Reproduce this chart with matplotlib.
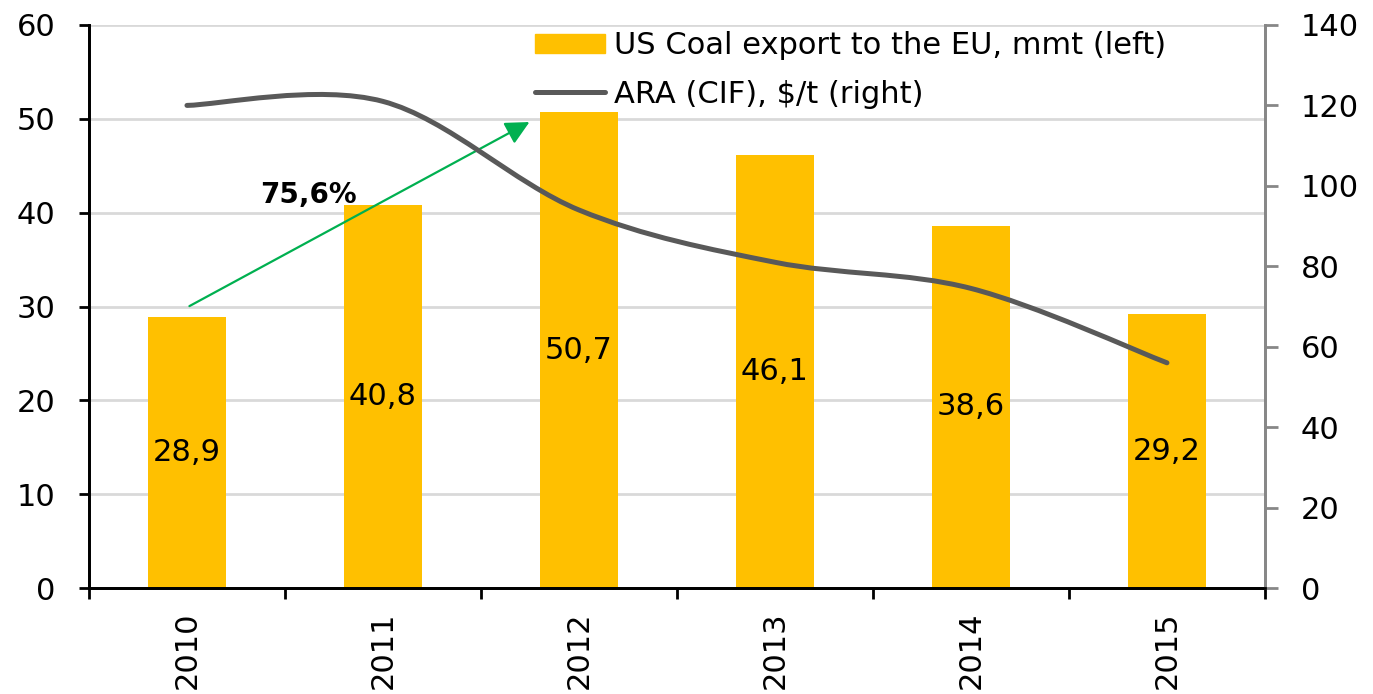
import matplotlib.pyplot as plt
from matplotlib.path import Path
from matplotlib.patches import PathPatch, Patch
from matplotlib.lines import Line2D

years = ["2010", "2011", "2012", "2013", "2014", "2015"]
export_mmt = [28.9, 40.8, 50.7, 46.1, 38.6, 29.2]
ara_price = [120.0, 121.0, 94.0, 81.0, 74.5, 56.0]
growth_label = "75,6%"

BAR = "#FFC000"
LINE = "#595959"
GRID = "#D9D9D9"
GREEN = "#00B050"


def smooth_path(xs, ys):
    # excel-like smoothed line: catmull-rom segments as cubic beziers
    verts = [(xs[0], ys[0])]
    codes = [Path.MOVETO]
    n = len(xs)
    for i in range(n - 1):
        x0, y0 = (xs[i - 1], ys[i - 1]) if i > 0 else (xs[i], ys[i])
        x1, y1 = xs[i], ys[i]
        x2, y2 = xs[i + 1], ys[i + 1]
        x3, y3 = (xs[i + 2], ys[i + 2]) if i + 2 < n else (x2, y2)
        c1 = (x1 + (x2 - x0) / 6, y1 + (y2 - y0) / 6)
        c2 = (x2 - (x3 - x1) / 6, y2 - (y3 - y1) / 6)
        verts += [c1, c2, (x2, y2)]
        codes += [Path.CURVE4] * 3
    return Path(verts, codes)


plt.rcParams["font.family"] = "DejaVu Sans"
plt.rcParams["font.size"] = 22

fig = plt.figure(figsize=(13.73, 6.94), dpi=100)
ax = fig.add_axes([0.0648, 0.1527, 0.8565, 0.8113])
ax2 = ax.twinx()

x = list(range(len(years)))
bars = ax.bar(x, export_mmt, width=0.4, color=BAR, zorder=2)
ax.bar_label(bars, labels=[f"{v:.1f}".replace(".", ",") for v in export_mmt],
             label_type="center", fontsize=22)

ax.set_xlim(-0.5, len(years) - 0.5)
ax.set_ylim(0, 60)
ax.set_yticks(range(0, 61, 10))
ax.set_axisbelow(True)
ax.grid(axis="y", color=GRID, linewidth=2)

ax.set_xticks(x)
ax.set_xticklabels(years, rotation=90)
ax.set_xticks([i - 0.5 for i in range(len(years) + 1)], minor=True)
ax.tick_params(axis="x", which="major", length=0, pad=17)
ax.tick_params(axis="x", which="minor", length=8, width=2, color="black")
ax.tick_params(axis="y", length=7, width=2, pad=17)

ax2.set_ylim(0, 140)
ax2.set_yticks(range(0, 141, 20))
ax2.tick_params(axis="y", length=9, width=2, color="#878787", pad=17)
ax2.add_patch(PathPatch(smooth_path(x, ara_price), facecolor="none",
                        edgecolor=LINE, linewidth=3.6, capstyle="round", zorder=3))

for a in (ax, ax2):
    a.spines["top"].set_visible(False)
    a.spines["left"].set_linewidth(2)
    a.spines["bottom"].set_linewidth(2)
    a.spines["right"].set_linewidth(2)
    a.spines["right"].set_color("#878787")

ax.annotate("", xy=(1.76, 49.8), xytext=(0.0, 29.9),
            arrowprops=dict(arrowstyle="-|>", color=GREEN, lw=1.6, mutation_scale=36),
            zorder=4)
ax.text(0.62, 41.9, growth_label, fontsize=20, fontweight="bold",
        ha="center", va="center")

handles = [Patch(color=BAR), Line2D([], [], color=LINE, linewidth=3.6, solid_capstyle="round")]
labels = ["US Coal export to the EU, mmt (left)", "ARA (CIF), $/t (right)"]
fig.legend(handles, labels, loc="upper left", bbox_to_anchor=(535 / 1373, 1 - 31 / 694),
           frameon=False, borderpad=0, handlelength=2.3, handleheight=0.6,
           handletextpad=0.3, labelspacing=0.64, borderaxespad=0, fontsize=22)

fig.savefig("out.png", dpi=100)
